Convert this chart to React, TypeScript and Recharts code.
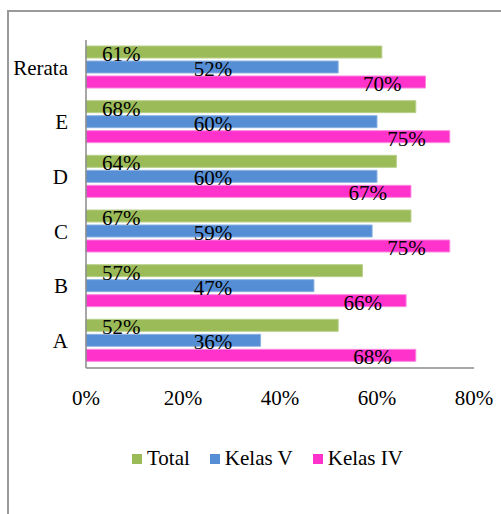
import { BarChart, Bar, XAxis, YAxis, Legend } from 'recharts'

// categories top to bottom
const categories = ['Rerata', 'E', 'D', 'C', 'B', 'A']
const total = [61, 68, 64, 67, 57, 52]
const kelasV = [52, 60, 60, 59, 47, 36]
const kelasIV = [70, 75, 67, 75, 66, 68]
const xTicks = [0, 20, 40, 60, 80]

const data = categories.map((name, i) => ({
    name,
    total: total[i],
    kelasV: kelasV[i],
    kelasIV: kelasIV[i],
}))

const FONT = "'Liberation Serif', 'Times New Roman', serif"
const FONT_SIZE = 21

const series = [
    { key: 'total', label: 'Total', color: '#9BBB59', stroke: '#B9D08A' },
    { key: 'kelasV', label: 'Kelas V', color: '#558ED5', stroke: '#8DB3E2' },
    { key: 'kelasIV', label: 'Kelas IV', color: '#FF33CC', stroke: '#FF85E0' },
]

// Total labels sit near the bar start
const totalLabel = (props: any) => {
    const { x, y, height, value } = props
    return (
        <text x={x + 16} y={y + height + 3} fontFamily={FONT} fontSize={FONT_SIZE} fill="#000" textAnchor="start">
            {`${value}%`}
        </text>
    )
}

// Kelas V labels sit at a fixed distance from the base
const kelasVLabel = (props: any) => {
    const { x, y, height, value } = props
    return (
        <text x={x + 127} y={y + height + 3} fontFamily={FONT} fontSize={FONT_SIZE} fill="#000" textAnchor="middle">
            {`${value}%`}
        </text>
    )
}

// Kelas IV labels sit inside the bar end
const kelasIVLabel = (props: any) => {
    const { x, y, width, height, value } = props
    return (
        <text x={x + width - 24} y={y + height + 3} fontFamily={FONT} fontSize={FONT_SIZE} fill="#000" textAnchor="end">
            {`${value}%`}
        </text>
    )
}

const labels: Record<string, any> = {
    total: totalLabel,
    kelasV: kelasVLabel,
    kelasIV: kelasIVLabel,
}

const CustomLegend = () => (
    <div style={{ display: 'flex', alignItems: 'center', fontFamily: FONT, fontSize: FONT_SIZE, color: '#000', paddingLeft: 132 }}>
        {series.map((s, i) => (
            <div key={s.key} style={{ display: 'flex', alignItems: 'center', marginRight: i < series.length - 1 ? 20 : 0 }}>
                <span style={{ display: 'inline-block', width: 10, height: 10, background: s.color, marginRight: 5 }} />
                <span>{s.label}</span>
            </div>
        ))}
    </div>
)

export default function App() {
    return (
        <div style={{ position: 'absolute', left: 0, top: 0, width: 501, height: 514, overflow: 'hidden' }}>
            <div
                style={{
                    position: 'absolute',
                    left: 7,
                    top: 10,
                    width: 494,
                    height: 504,
                    borderTop: '2px solid #9a9a9a',
                    borderLeft: '2px solid #9a9a9a',
                    boxSizing: 'border-box',
                }}
            />
            <div style={{ position: 'absolute', left: 0, top: 0 }}>
                <BarChart
                    width={501}
                    height={514}
                    data={data}
                    layout="vertical"
                    margin={{ top: 40, right: 27, left: 0, bottom: 81 }}
                    barSize={12}
                    barGap={3}
                >
                    <XAxis
                        type="number"
                        domain={[0, 80]}
                        ticks={xTicks}
                        tickFormatter={(v) => `${v}%`}
                        axisLine={{ stroke: '#8a8a8a', strokeWidth: 1.5 }}
                        tickLine={false}
                        tickSize={0}
                        tickMargin={22}
                        height={40}
                        tick={{ fill: '#000', fontFamily: FONT, fontSize: FONT_SIZE }}
                        interval={0}
                    />
                    <YAxis
                        type="category"
                        dataKey="name"
                        width={86}
                        axisLine={{ stroke: '#8a8a8a', strokeWidth: 1.5 }}
                        tickLine={false}
                        tickSize={0}
                        tickMargin={18}
                        tick={{ fill: '#000', fontFamily: FONT, fontSize: FONT_SIZE }}
                        interval={0}
                    />
                    <Legend
                        content={<CustomLegend />}
                        wrapperStyle={{ position: 'absolute', top: 446, left: 0, width: 501 }}
                    />
                    {series.map((s) => (
                        <Bar
                            key={s.key}
                            dataKey={s.key}
                            name={s.label}
                            fill={s.color}
                            stroke={s.stroke}
                            strokeWidth={1}
                            isAnimationActive={false}
                            label={labels[s.key]}
                        />
                    ))}
                </BarChart>
            </div>
        </div>
    )
}
